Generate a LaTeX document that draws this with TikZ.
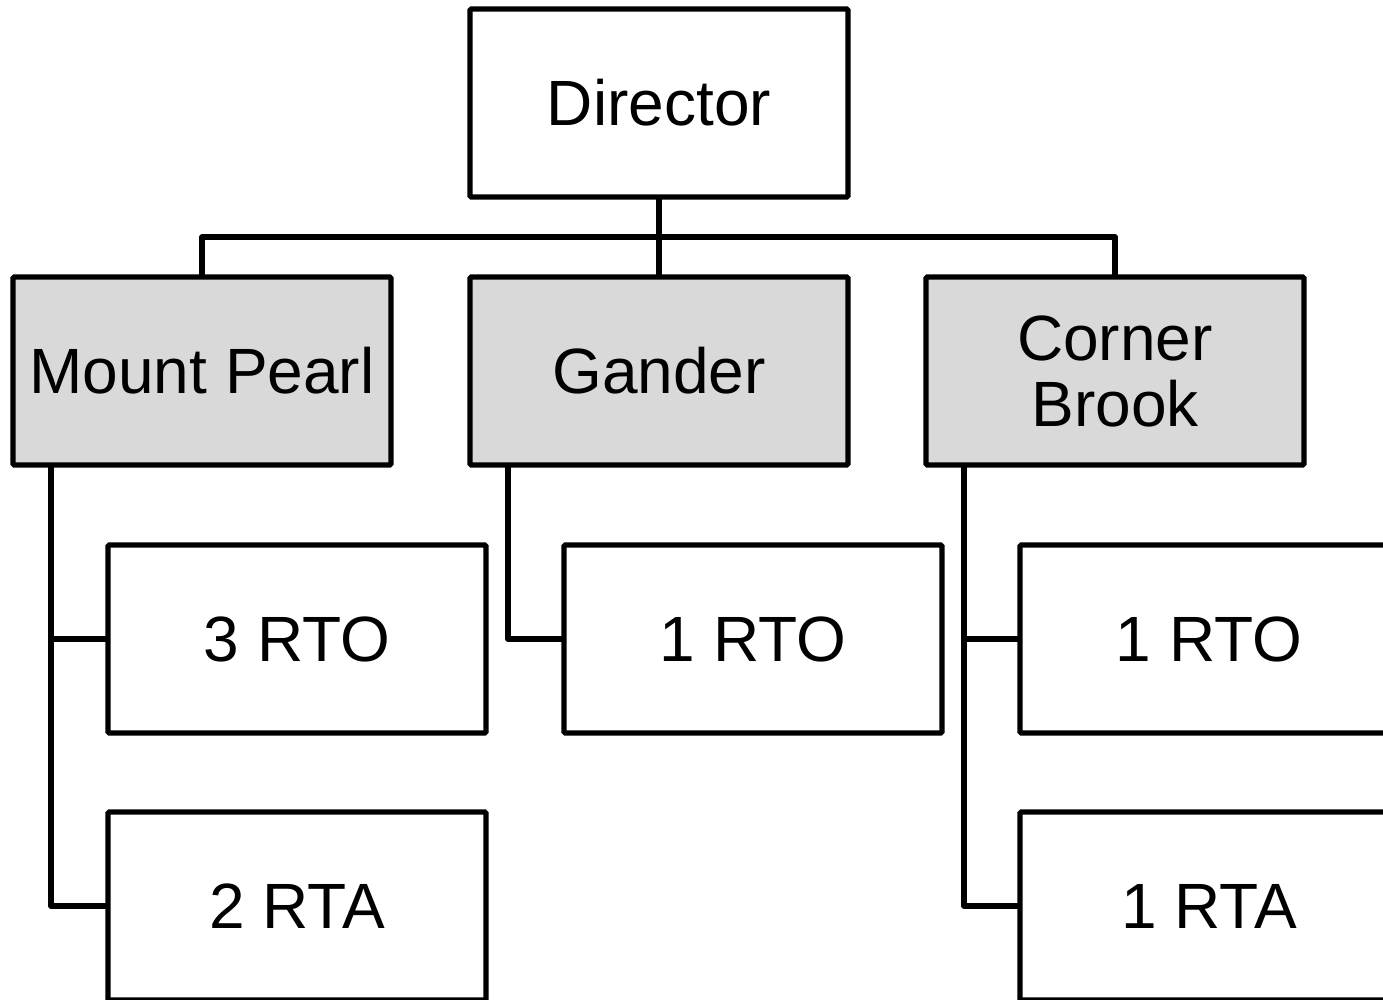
\documentclass[tikz,border=0pt]{standalone}
\usepackage{fontspec}
\setmainfont{Liberation Sans}
\begin{document}
\begin{tikzpicture}[x=1pt,y=-1pt,
  box/.style={draw=black, line width=5.4pt, rounded corners=1.5pt, fill=white, minimum width=378pt, minimum height=188pt, inner sep=0pt, outer sep=0pt, align=center, font=\fontsize{64}{66}\selectfont},
  office/.style={box, fill=gray!30!white},
  conn/.style={draw=black, line width=5.4pt, line join=round}]
\clip (0,0) rectangle (1383,999);
\node[box] (dir) at (659,103) {Director};
\node[office] (mp) at (202,371) {Mount Pearl};
\node[office] (ga) at (659,371) {Gander};
\node[office] (cb) at (1115,371) {Corner\\Brook};
\node[box] (mp1) at (297,639) {3 RTO};
\node[box] (mp2) at (297,906) {2 RTA};
\node[box] (ga1) at (753,639) {1 RTO};
\node[box] (cb1) at (1209,639) {1 RTO};
\node[box] (cb2) at (1209,906) {1 RTA};
\coordinate (bar) at (659,237);
\draw[conn] (dir.south) -- (bar);
\draw[conn] (mp.north) |- (bar) -| (cb.north);
\draw[conn] (bar) -- (ga.north);
\draw[conn] ([xshift=38pt]mp.south west) |- (mp2.west);
\draw[conn] ([xshift=38pt]mp.south west |- mp1.west) -- (mp1.west);
\draw[conn] ([xshift=38pt]ga.south west) |- (ga1.west);
\draw[conn] ([xshift=38pt]cb.south west) |- (cb2.west);
\draw[conn] ([xshift=38pt]cb.south west |- cb1.west) -- (cb1.west);
\end{tikzpicture}
\end{document}
